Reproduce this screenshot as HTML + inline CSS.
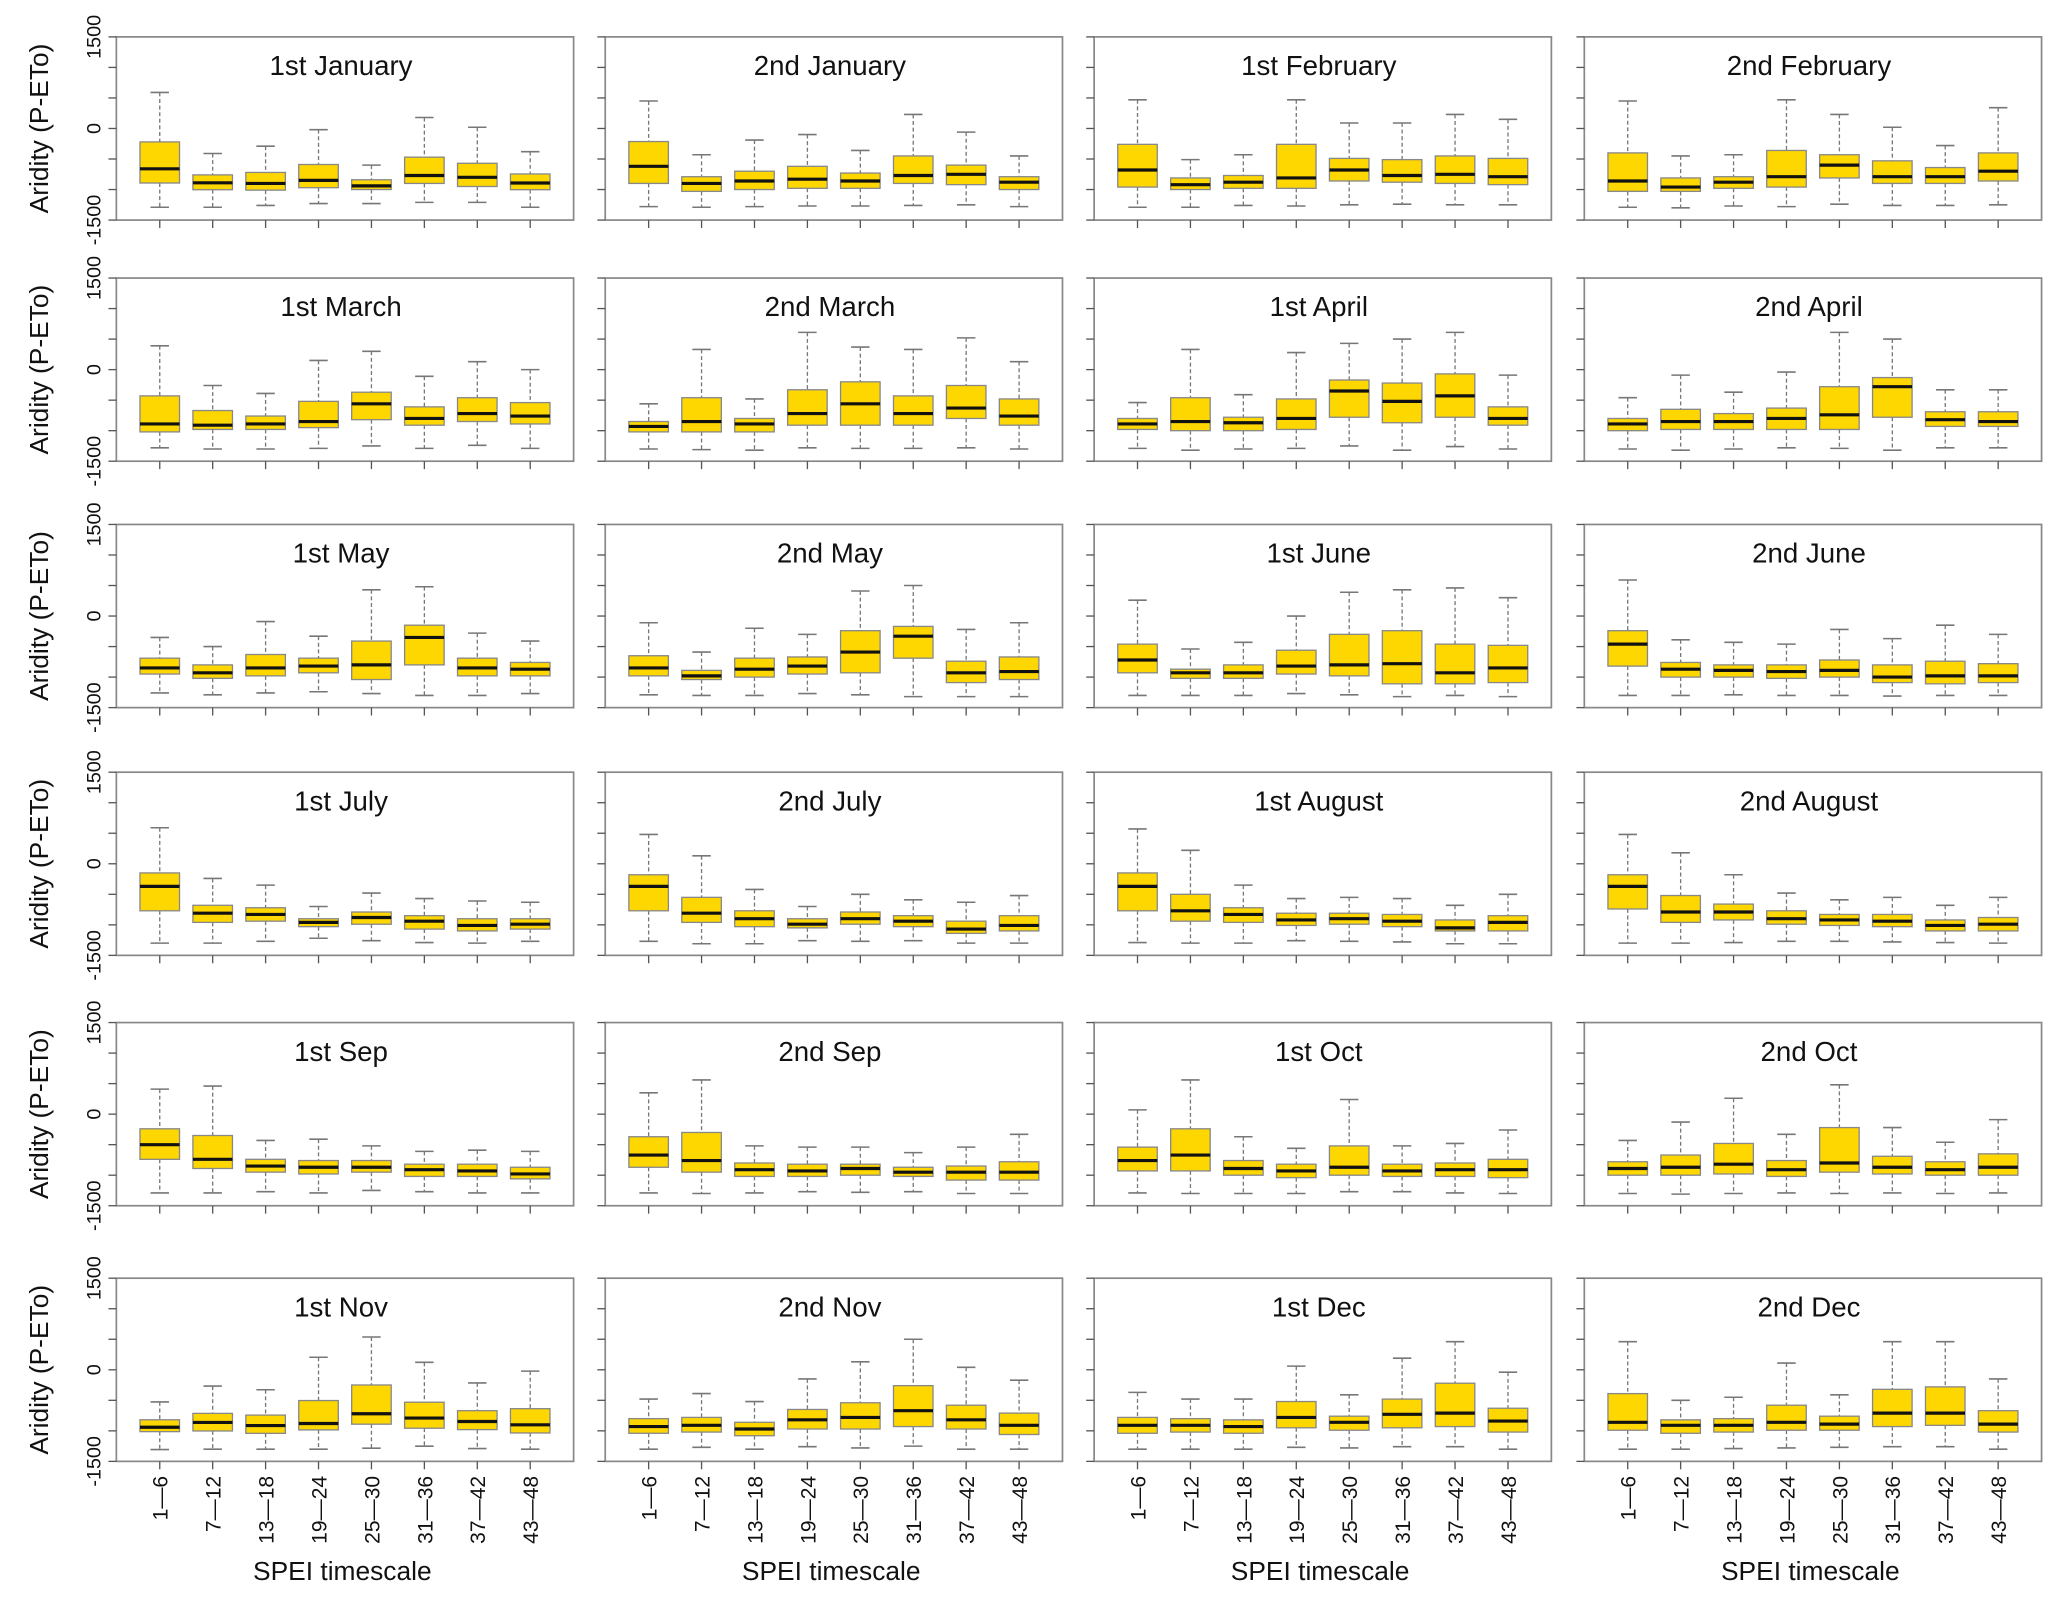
<!DOCTYPE html>
<html><head><meta charset="utf-8">
<style>
html,body{margin:0;padding:0;background:#fff;}
svg{display:block;font-family:"Liberation Sans",Arial,sans-serif;}
</style></head>
<body>
<svg id="chart" width="2067" height="1605" viewBox="0 0 1568 1218" xmlns="http://www.w3.org/2000/svg"></svg>
<script>
const titles = ["1st January","2nd January","1st February","2nd February",
"1st March","2nd March","1st April","2nd April",
"1st May","2nd May","1st June","2nd June",
"1st July","2nd July","1st August","2nd August",
"1st Sep","2nd Sep","1st Oct","2nd Oct",
"1st Nov","2nd Nov","1st Dec","2nd Dec"];
const categories = ["1\u20146","7\u201412","13\u201418","19\u201424","25\u201430","31\u201436","37\u201442","43\u201448"];
const yTickValues = [-1500,-1000,-500,0,500,1000,1500];
const yTickLabels = ["-1500","0","1500"];
const highs = [
[590,-410,-290,-20,-600,180,20,-380],
[450,-430,-190,-100,-360,230,-60,-450],
[470,-510,-430,470,90,90,230,150],
[450,-450,-430,470,230,20,-280,340],
[390,-260,-390,150,300,-110,130,0],
[-560,330,-480,610,370,330,520,130],
[-540,330,-410,280,430,500,610,-90],
[-460,-90,-370,-40,610,500,-330,-330],
[-350,-500,-90,-330,430,480,-280,-410],
[-110,-590,-200,-300,410,500,-220,-110],
[260,-540,-430,0,390,430,460,300],
[590,-390,-430,-460,-220,-370,-150,-300],
[590,-240,-350,-700,-480,-570,-610,-630],
[480,130,-420,-700,-500,-590,-630,-520],
[570,220,-350,-570,-550,-570,-680,-500],
[480,180,-180,-480,-590,-550,-680,-550],
[410,460,-430,-410,-520,-610,-590,-610],
[350,560,-520,-540,-540,-630,-540,-330],
[70,560,-370,-560,240,-520,-480,-260],
[-430,-130,260,-330,480,-220,-460,-90],
[-526,-266,-327,205,537,122,-216,-22],
[-480,-390,-520,-150,130,500,40,-170],
[-370,-480,-480,60,-410,190,460,-40],
[460,-500,-450,110,-410,460,460,-150]];
const q3s = [
[-220,-760,-720,-590,-840,-470,-570,-745],
[-214,-790,-700,-620,-730,-450,-600,-790],
[-260,-810,-770,-260,-490,-510,-450,-490],
[-400,-810,-790,-360,-430,-530,-640,-400],
[-430,-670,-760,-520,-370,-610,-460,-540],
[-850,-460,-800,-330,-200,-430,-260,-480],
[-800,-460,-780,-480,-170,-220,-70,-610],
[-800,-650,-720,-630,-280,-130,-690,-690],
[-690,-800,-630,-690,-410,-150,-690,-760],
[-650,-890,-690,-670,-240,-170,-740,-670],
[-460,-870,-800,-560,-300,-240,-460,-480],
[-240,-760,-800,-800,-720,-800,-740,-780],
[-150,-680,-720,-900,-790,-850,-900,-900],
[-180,-550,-770,-900,-790,-850,-940,-850],
[-150,-500,-720,-810,-810,-830,-920,-850],
[-180,-520,-660,-770,-830,-830,-920,-880],
[-240,-350,-740,-760,-760,-820,-820,-870],
[-370,-300,-800,-820,-820,-870,-850,-780],
[-540,-240,-760,-820,-520,-820,-800,-740],
[-780,-670,-480,-760,-220,-690,-780,-650],
[-819,-714,-742,-504,-249,-531,-670,-637],
[-800,-780,-860,-650,-540,-260,-580,-710],
[-780,-800,-820,-520,-760,-480,-220,-630],
[-390,-820,-800,-580,-760,-320,-280,-670]];
const meds = [
[-660,-890,-900,-850,-940,-770,-800,-893],
[-620,-900,-860,-830,-860,-770,-750,-880],
[-680,-920,-880,-810,-680,-770,-750,-790],
[-860,-960,-880,-790,-600,-790,-790,-700],
[-890,-910,-890,-850,-560,-800,-720,-760],
[-930,-850,-890,-720,-560,-720,-630,-760],
[-890,-850,-870,-800,-350,-520,-430,-800],
[-890,-850,-850,-800,-740,-280,-820,-850],
[-850,-930,-850,-820,-800,-350,-850,-870],
[-850,-980,-870,-820,-590,-330,-930,-910],
[-720,-930,-930,-820,-800,-780,-930,-850],
[-460,-870,-890,-910,-890,-1000,-980,-980],
[-370,-810,-830,-960,-880,-940,-1010,-990],
[-370,-810,-900,-990,-900,-940,-1070,-1010],
[-370,-770,-830,-920,-900,-940,-1050,-960],
[-370,-790,-790,-900,-920,-940,-1010,-990],
[-500,-740,-850,-870,-870,-910,-930,-980],
[-670,-760,-910,-930,-890,-950,-950,-950],
[-760,-670,-890,-930,-870,-930,-910,-910],
[-890,-870,-820,-910,-800,-870,-910,-870],
[-941,-863,-913,-880,-720,-791,-847,-902],
[-930,-910,-970,-820,-780,-670,-820,-910],
[-910,-910,-930,-780,-860,-730,-710,-840],
[-860,-910,-910,-860,-890,-710,-710,-890]];
const q1s = [
[-893,-1003,-1010,-970,-1000,-900,-950,-1003],
[-900,-1030,-1000,-980,-980,-900,-920,-1000],
[-960,-1000,-980,-980,-860,-880,-900,-920],
[-1030,-1030,-980,-960,-810,-900,-900,-860],
[-1020,-980,-980,-950,-820,-910,-850,-890],
[-1020,-1020,-1020,-910,-910,-910,-800,-910],
[-980,-1000,-1000,-980,-780,-870,-780,-910],
[-1000,-980,-980,-980,-980,-780,-930,-930],
[-950,-1020,-980,-930,-1040,-800,-980,-980],
[-980,-1040,-1000,-950,-930,-690,-1090,-1040],
[-930,-1020,-1020,-950,-980,-1110,-1110,-1090],
[-820,-1000,-1000,-1020,-1000,-1090,-1110,-1090],
[-770,-960,-940,-1030,-990,-1070,-1100,-1070],
[-770,-960,-1030,-1050,-990,-1030,-1140,-1100],
[-770,-940,-960,-1010,-990,-1030,-1100,-1100],
[-740,-960,-920,-990,-1010,-1030,-1100,-1100],
[-740,-890,-950,-980,-950,-1020,-1020,-1060],
[-870,-950,-1020,-1020,-1000,-1020,-1080,-1080],
[-930,-930,-1000,-1040,-1000,-1020,-1020,-1040],
[-1000,-1000,-980,-1020,-950,-980,-1000,-1000],
[-1013,-1002,-1041,-985,-891,-957,-980,-1035],
[-1040,-1020,-1080,-970,-970,-930,-970,-1060],
[-1040,-1020,-1040,-950,-990,-950,-930,-1020],
[-990,-1040,-1020,-990,-990,-930,-910,-1020]];
const lows = [
[-1290,-1290,-1260,-1230,-1230,-1210,-1210,-1290],
[-1280,-1290,-1280,-1270,-1270,-1260,-1250,-1280],
[-1290,-1290,-1260,-1270,-1250,-1240,-1250,-1250],
[-1290,-1300,-1270,-1280,-1240,-1260,-1260,-1250],
[-1280,-1300,-1300,-1290,-1250,-1290,-1240,-1290],
[-1300,-1310,-1320,-1280,-1290,-1290,-1280,-1300],
[-1290,-1320,-1300,-1290,-1250,-1320,-1260,-1300],
[-1300,-1320,-1300,-1280,-1290,-1320,-1280,-1280],
[-1260,-1290,-1260,-1240,-1270,-1300,-1300,-1270],
[-1290,-1300,-1300,-1270,-1290,-1320,-1320,-1320],
[-1300,-1300,-1300,-1270,-1290,-1320,-1300,-1320],
[-1300,-1300,-1290,-1300,-1300,-1310,-1300,-1300],
[-1300,-1300,-1270,-1220,-1260,-1290,-1300,-1270],
[-1270,-1310,-1310,-1260,-1270,-1260,-1300,-1300],
[-1290,-1300,-1300,-1260,-1270,-1280,-1310,-1310],
[-1300,-1300,-1290,-1270,-1270,-1280,-1290,-1300],
[-1290,-1290,-1270,-1290,-1250,-1270,-1290,-1290],
[-1290,-1300,-1290,-1270,-1280,-1270,-1300,-1300],
[-1290,-1300,-1300,-1300,-1270,-1270,-1290,-1300],
[-1300,-1310,-1300,-1290,-1300,-1290,-1300,-1290],
[-1306,-1300,-1300,-1300,-1284,-1251,-1290,-1300],
[-1300,-1270,-1300,-1260,-1280,-1250,-1300,-1300],
[-1300,-1300,-1300,-1270,-1280,-1260,-1260,-1300],
[-1300,-1300,-1290,-1280,-1270,-1260,-1260,-1300]];

const NS = "http://www.w3.org/2000/svg";
const svg = document.getElementById("chart");
const colLeft = [88,459,830,1202], rowTop = [28,211,398,586,776,970];
const PW = 347, PH = 139, YMIN = -1500, YMAX = 1500;
function mk(tag, attrs, parent){ const e=document.createElementNS(NS,tag); for(const k in attrs) e.setAttribute(k,attrs[k]); (parent||svg).appendChild(e); return e; }
function yScale(v, top){ return top + (YMAX - v)/(YMAX - YMIN)*PH; }
function xScale(i, left){ const u = PW/8.64; return left + (i + 0.82)*u; }

titles.forEach((t, p) => {
  const r = Math.floor(p/4), c = p%4;
  const L = colLeft[c], T = rowTop[r];
  const g = mk("g", {});
  
  
  const frame = mk("rect", {x:L, y:T, width:PW, height:PH, fill:"none", stroke:"#888", "stroke-width":1.3}, g);
  
  
  const ttl = mk("text", {x:L+PW/2-3, y:T+29, "text-anchor":"middle", "font-size":21, fill:"#111"}, g);
  ttl.textContent = t;
  
  
  // y axis ticks
  yTickValues.forEach(v => {
    const yy = yScale(v, T);
    mk("line", {x1:L-6, x2:L, y1:yy, y2:yy, stroke:"#555", "stroke-width":1}, g);
  });
  if (c === 0) {
    [-1500,0,1500].forEach((v, k) => {
      const yy = yScale(v, T);
      const lab = mk("text", {x:0, y:0, transform:`translate(${L-12},${yy}) rotate(-90)`, "text-anchor":"middle", "font-size":15, fill:"#111"}, g);
      lab.textContent = yTickLabels[k];
      
      
    });
    const yt = mk("text", {x:0, y:0, transform:`translate(36,${T+PH/2}) rotate(-90)`, "text-anchor":"middle", "font-size":20, fill:"#111"}, g);
    yt.textContent = "Aridity (P-ETo)";
    
    
  }
  categories.forEach((cat, i) => {
    const cx = xScale(i, L), hw = 15, cw = 7;
    mk("line", {x1:cx, x2:cx, y1:T+PH, y2:T+PH+6, stroke:"#555", "stroke-width":1}, g);
    const hi = yScale(highs[p][i], T), q3 = yScale(q3s[p][i], T), md = yScale(meds[p][i], T), q1 = yScale(q1s[p][i], T), lo = yScale(lows[p][i], T);
    const bg = mk("g", {}, g);
    
    
    mk("line", {x1:cx, x2:cx, y1:hi, y2:q3, stroke:"#777", "stroke-width":1, "stroke-dasharray":"3,2"}, bg);
    mk("line", {x1:cx, x2:cx, y1:q1, y2:lo, stroke:"#777", "stroke-width":1, "stroke-dasharray":"3,2"}, bg);
    mk("line", {x1:cx-cw, x2:cx+cw, y1:hi, y2:hi, stroke:"#777", "stroke-width":1.2}, bg);
    mk("line", {x1:cx-cw, x2:cx+cw, y1:lo, y2:lo, stroke:"#777", "stroke-width":1.2}, bg);
    mk("rect", {x:cx-hw, y:q3, width:2*hw, height:Math.max(q1-q3,1), fill:"#FFD700", stroke:"#888", "stroke-width":1}, bg);
    mk("line", {x1:cx-hw, x2:cx+hw, y1:md, y2:md, stroke:"#111", "stroke-width":2.4}, bg);
    if (r === 5) {
      const xl = mk("text", {x:0, y:0, transform:`translate(${cx+6},${T+PH+11}) rotate(-90)`, "text-anchor":"end", "font-size":16, fill:"#111"}, g);
      xl.textContent = cat;
      
      
    }
  });
  if (r === 5) {
    const xt = mk("text", {x:L+PW/2-2, y:1199, "text-anchor":"middle", "font-size":20, fill:"#111"}, g);
    xt.textContent = "SPEI timescale";
    
    
  }
});
</script>
</body></html>
